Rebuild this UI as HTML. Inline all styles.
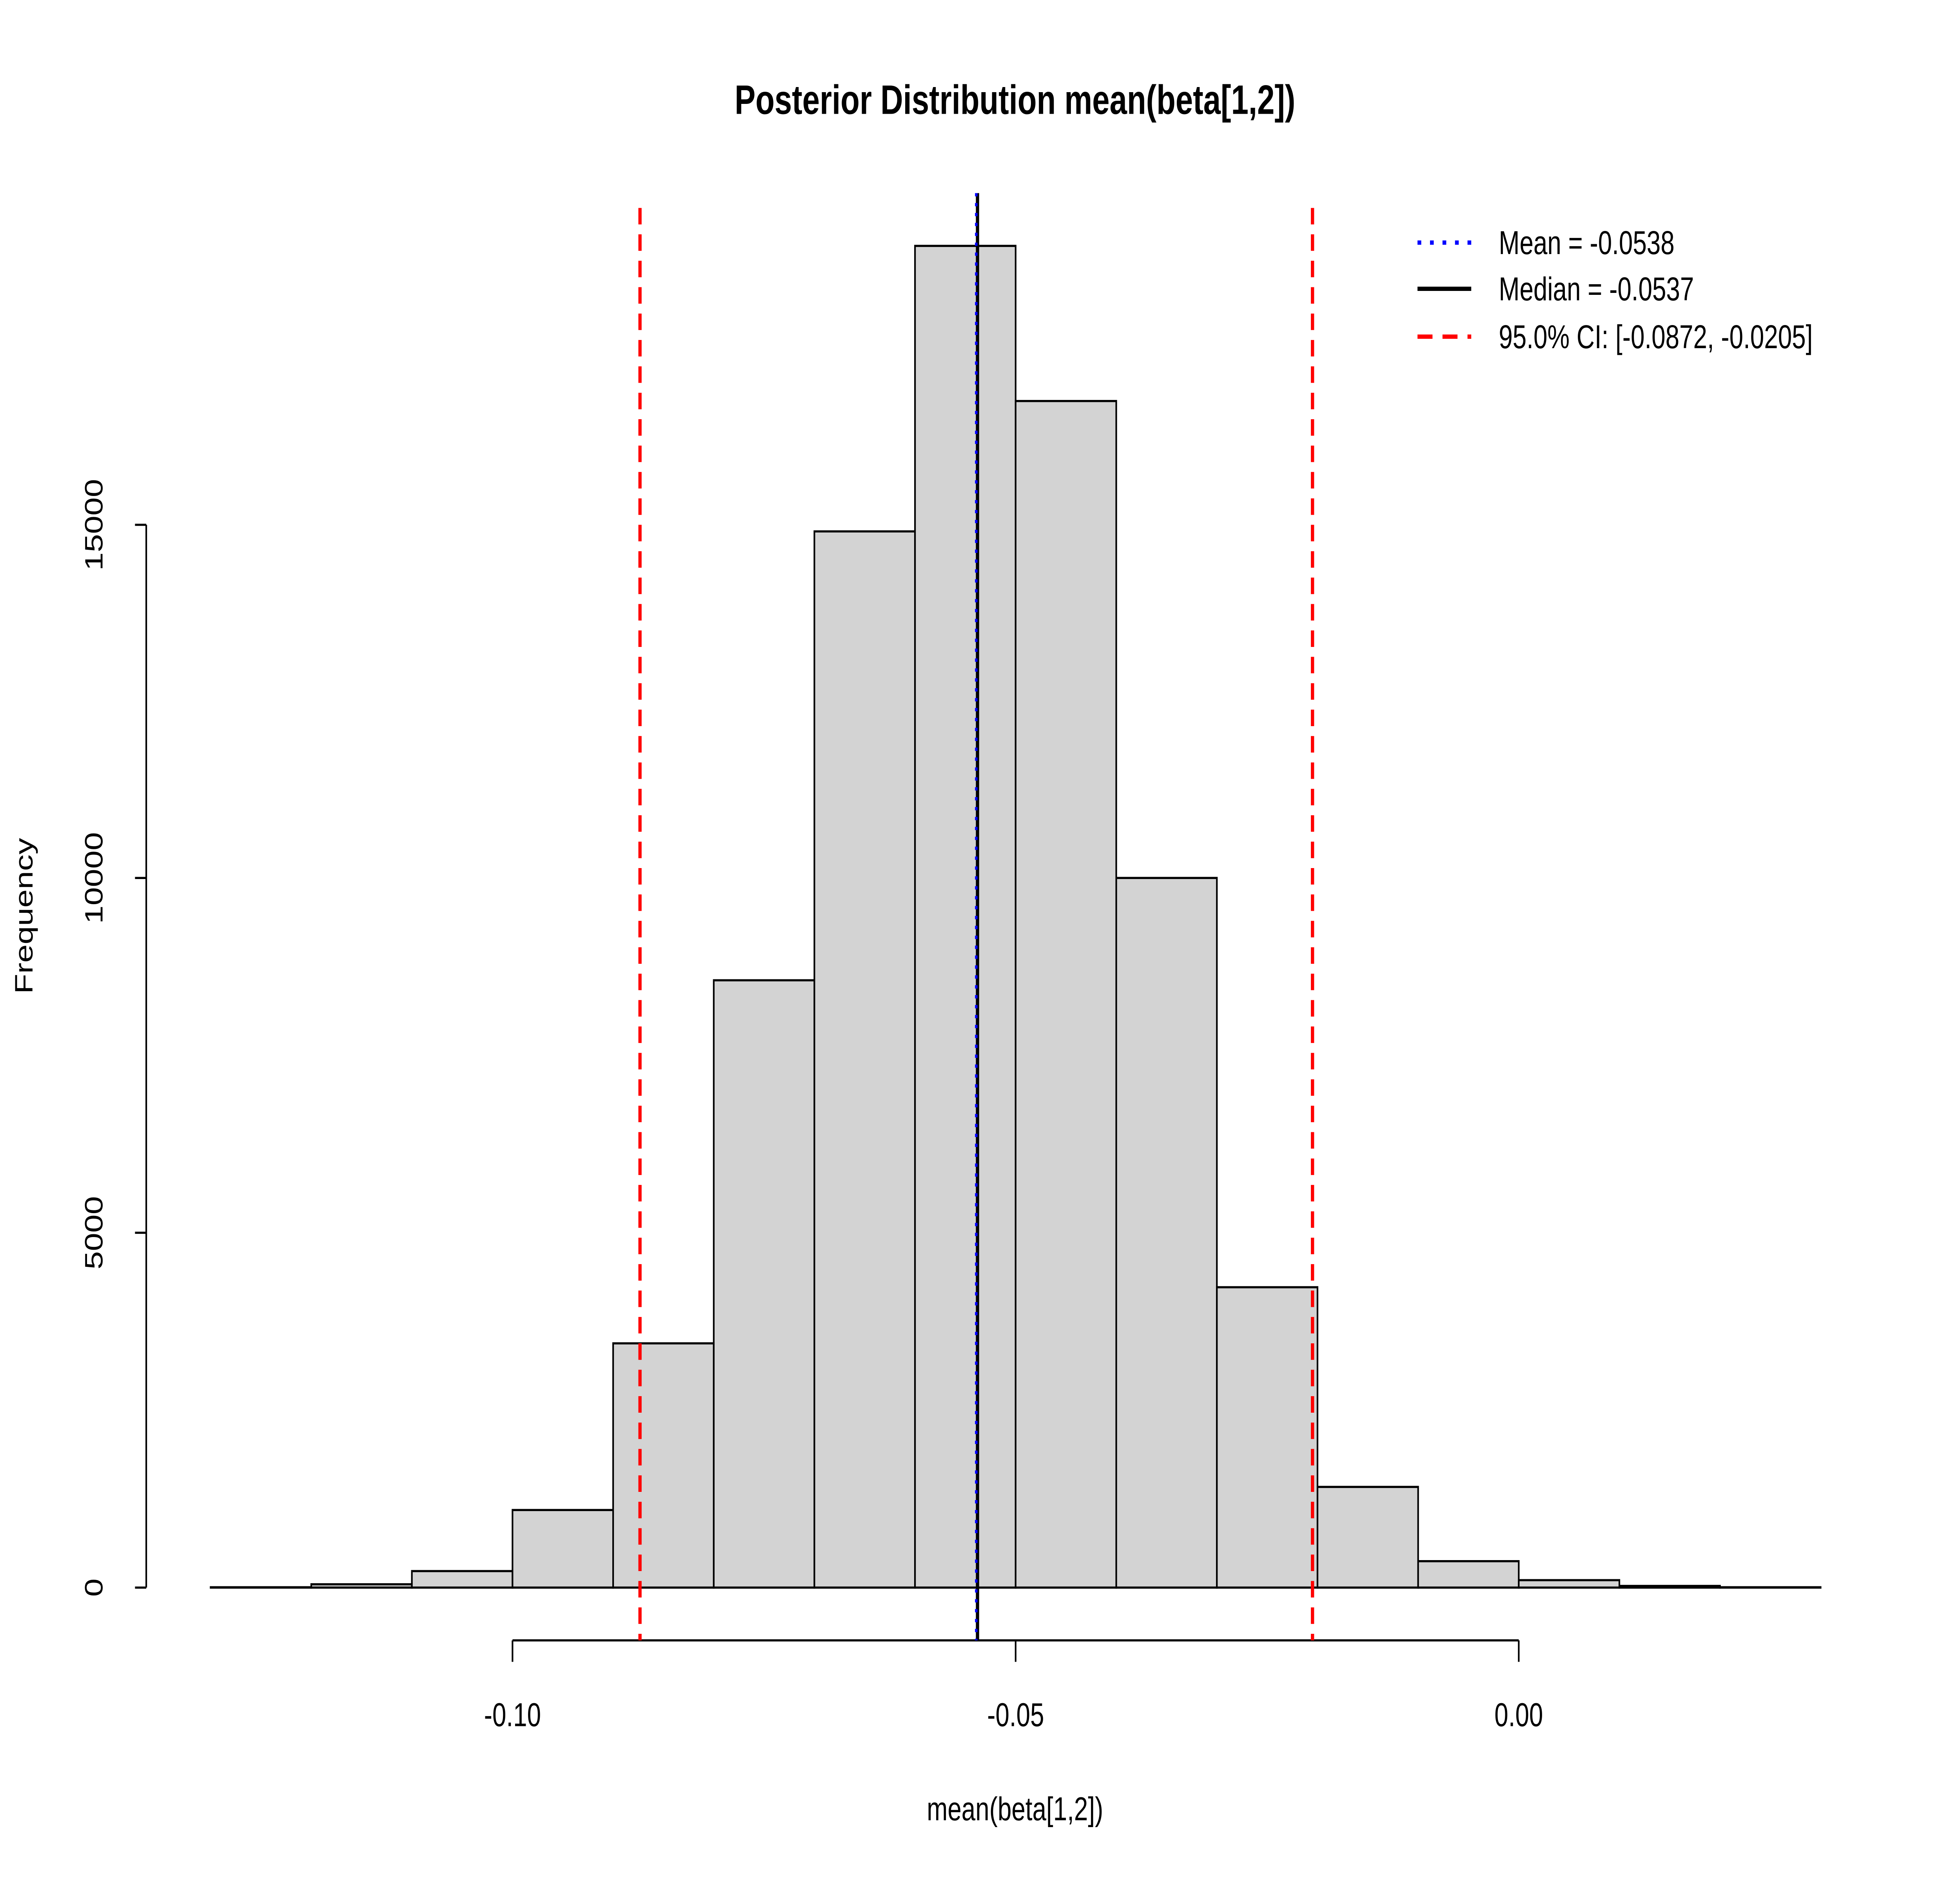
<!DOCTYPE html>
<html><head><meta charset="utf-8"><style>
html,body{margin:0;padding:0;background:#fff;width:100%;height:100%;overflow:hidden}
svg{display:block;position:fixed;left:0;top:0;width:100vw;height:100vh}
</style></head>
<body>
<svg viewBox="0 0 1568 1140.4" preserveAspectRatio="none" xmlns="http://www.w3.org/2000/svg" font-family="Liberation Sans, sans-serif">
<rect width="1568" height="1141" fill="#fff"/>
<text x="812" y="69" text-anchor="middle" font-size="25" font-weight="bold">Posterior Distribution mean(beta[1,2])</text>
<g fill="#d3d3d3" stroke="#000" stroke-width="1.3">
<rect x="168.5" y="961.8" width="80.5" height="0.2"/>
<rect x="249" y="960" width="80.5" height="2"/>
<rect x="329.5" y="952" width="80.5" height="10"/>
<rect x="410" y="915" width="80.5" height="47"/>
<rect x="490.5" y="814" width="80.5" height="148"/>
<rect x="571" y="594" width="80.5" height="368"/>
<rect x="651.5" y="322" width="80.5" height="640"/>
<rect x="732" y="149" width="80.5" height="813"/>
<rect x="812.5" y="243" width="80.5" height="719"/>
<rect x="893" y="532" width="80.5" height="430"/>
<rect x="973.5" y="780" width="80.5" height="182"/>
<rect x="1054" y="901" width="80.5" height="61"/>
<rect x="1134.5" y="946" width="80.5" height="16"/>
<rect x="1215" y="957.5" width="80.5" height="4.5"/>
<rect x="1295.5" y="961" width="80.5" height="1"/>
<rect x="1376" y="961.8" width="80.5" height="0.2"/>
</g>
<g stroke="#000" stroke-width="1.3" fill="none">
<line x1="117" y1="318" x2="117" y2="962"/>
<line x1="108" y1="962" x2="117" y2="962"/>
<line x1="108" y1="747" x2="117" y2="747"/>
<line x1="108" y1="532" x2="117" y2="532"/>
<line x1="108" y1="318" x2="117" y2="318"/>
<line x1="410" y1="994" x2="1215" y2="994"/>
<line x1="410" y1="994" x2="410" y2="1007"/>
<line x1="812.5" y1="994" x2="812.5" y2="1007"/>
<line x1="1215" y1="994" x2="1215" y2="1007"/>
</g>
<g font-size="20" text-anchor="middle">
<text transform="translate(82,962) rotate(-90)">0</text>
<text transform="translate(82,747) rotate(-90)">5000</text>
<text transform="translate(82,532) rotate(-90)">10000</text>
<text transform="translate(82,318) rotate(-90)">15000</text>
<text transform="translate(26,555) rotate(-90)">Frequency</text>
<text x="410" y="1046">-0.10</text>
<text x="812.5" y="1046">-0.05</text>
<text x="1215" y="1046">0.00</text>
<text x="812" y="1103">mean(beta[1,2])</text>
</g>
<line x1="782" y1="117" x2="782" y2="994" stroke="#000" stroke-width="2.6"/>
<line x1="781" y1="117" x2="781" y2="994" stroke="#0000ff" stroke-width="2" stroke-dasharray="2,4"/>
<line x1="512" y1="126" x2="512" y2="994" stroke="#ff0000" stroke-width="2.6" stroke-dasharray="10,6"/>
<line x1="1050" y1="126" x2="1050" y2="994" stroke="#ff0000" stroke-width="2.6" stroke-dasharray="10,6"/>
<line x1="1134" y1="147" x2="1177" y2="147" stroke="#0000ff" stroke-width="2.6" stroke-dasharray="3,7"/>
<line x1="1134" y1="175" x2="1177" y2="175" stroke="#000" stroke-width="2.6"/>
<line x1="1134" y1="204" x2="1177" y2="204" stroke="#ff0000" stroke-width="2.6" stroke-dasharray="12,8"/>
<g font-size="20">
<text x="1199" y="154">Mean = -0.0538</text>
<text x="1199" y="182">Median = -0.0537</text>
<text x="1199" y="211">95.0% CI: [-0.0872, -0.0205]</text>
</g>
</svg>
</body></html>
